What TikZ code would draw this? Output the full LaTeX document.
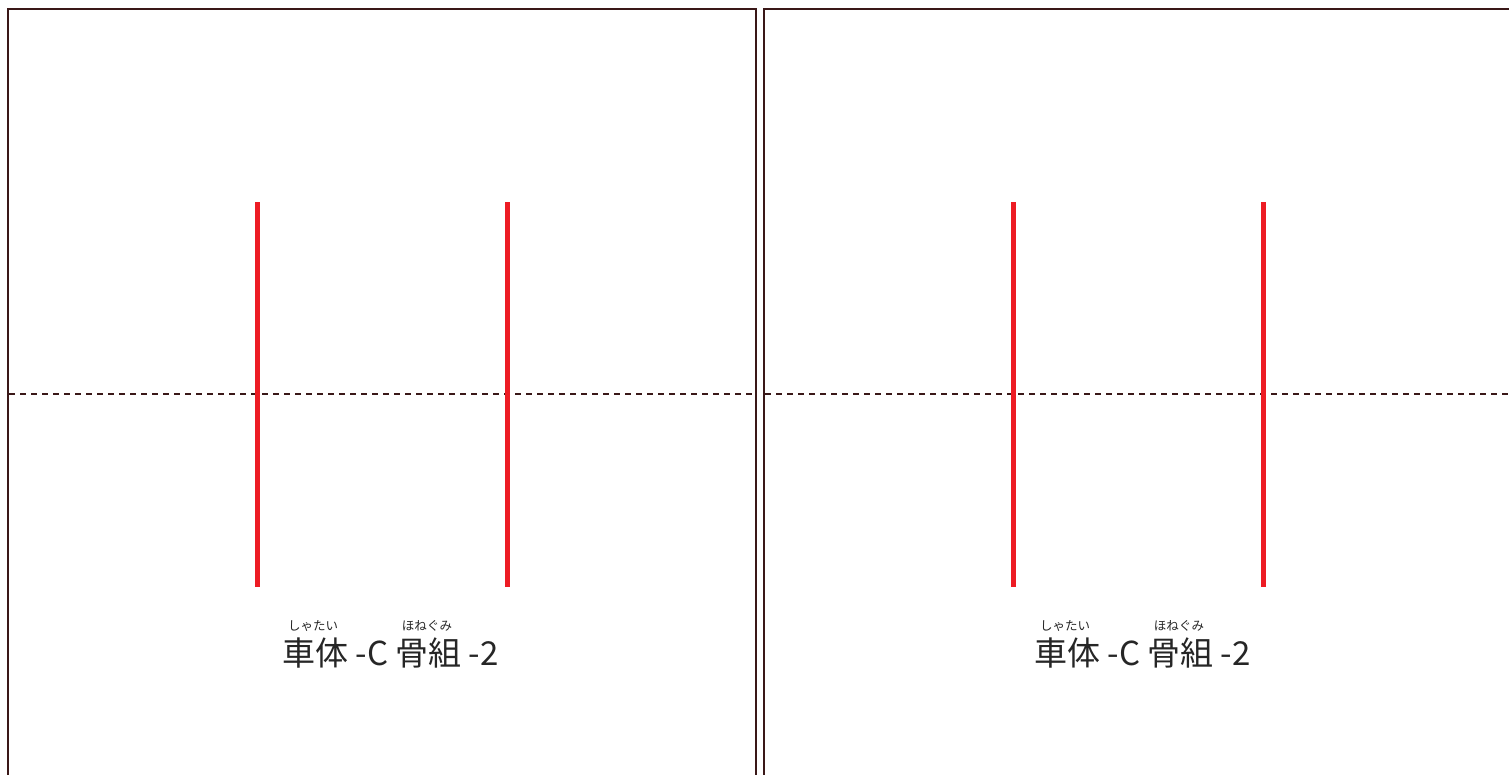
\documentclass[tikz,border=0pt]{standalone}
\usepackage{fontspec}
\newfontfamily\cjk{Noto Sans CJK JP}
\definecolor{frame}{RGB}{58,24,24}
\definecolor{redline}{RGB}{237,28,36}
\begin{document}
\begin{tikzpicture}[x=1pt,y=-1pt,
  panel/.style={draw=frame,line width=2.5pt},
  fold/.style={draw=frame,line width=2.6pt,dash pattern=on 6pt off 5pt},
  cutline/.style={draw=redline,line width=5pt},
  maintext/.style={font=\cjk\fontsize{33}{36}\selectfont,inner sep=0pt,anchor=base west,text=black!85},
  ruby/.style={font=\cjk\fontsize{12.5}{14}\selectfont,inner sep=0pt,text=black!85}]
\useasboundingbox (0,0) rectangle (1509,774);
\fill[white] (0,0) rectangle (1509,774);
\foreach \ox/\tx/\nm in {0/0/L,756/-4/R}{
  \begin{scope}[xshift=\ox pt]
  \draw[panel] (8,790) -- (8,9) -- (756,9) -- (756,790);
  \coordinate (\nm dl) at (9,394);
  \coordinate (\nm dr) at (755,394);
  \draw[fold] (\nm dl) -- (\nm dr);
  \coordinate (\nm a1) at (257.5,202);
  \coordinate (\nm a2) at (257.5,587);
  \coordinate (\nm b1) at (507.5,202);
  \coordinate (\nm b2) at (507.5,587);
  \draw[cutline] (\nm a1) -- (\nm a2);
  \draw[cutline] (\nm b1) -- (\nm b2);
  \begin{scope}[xshift=\tx pt]
  \node[maintext] (\nm title) at (282,665) {車体 -C 骨組 -2};
  \node[ruby] (\nm r1) at (313,626) {しゃたい};
  \node[ruby] (\nm r2) at (427,626) {ほねぐみ};
  \end{scope}
  \end{scope}
}
\end{tikzpicture}
\end{document}
